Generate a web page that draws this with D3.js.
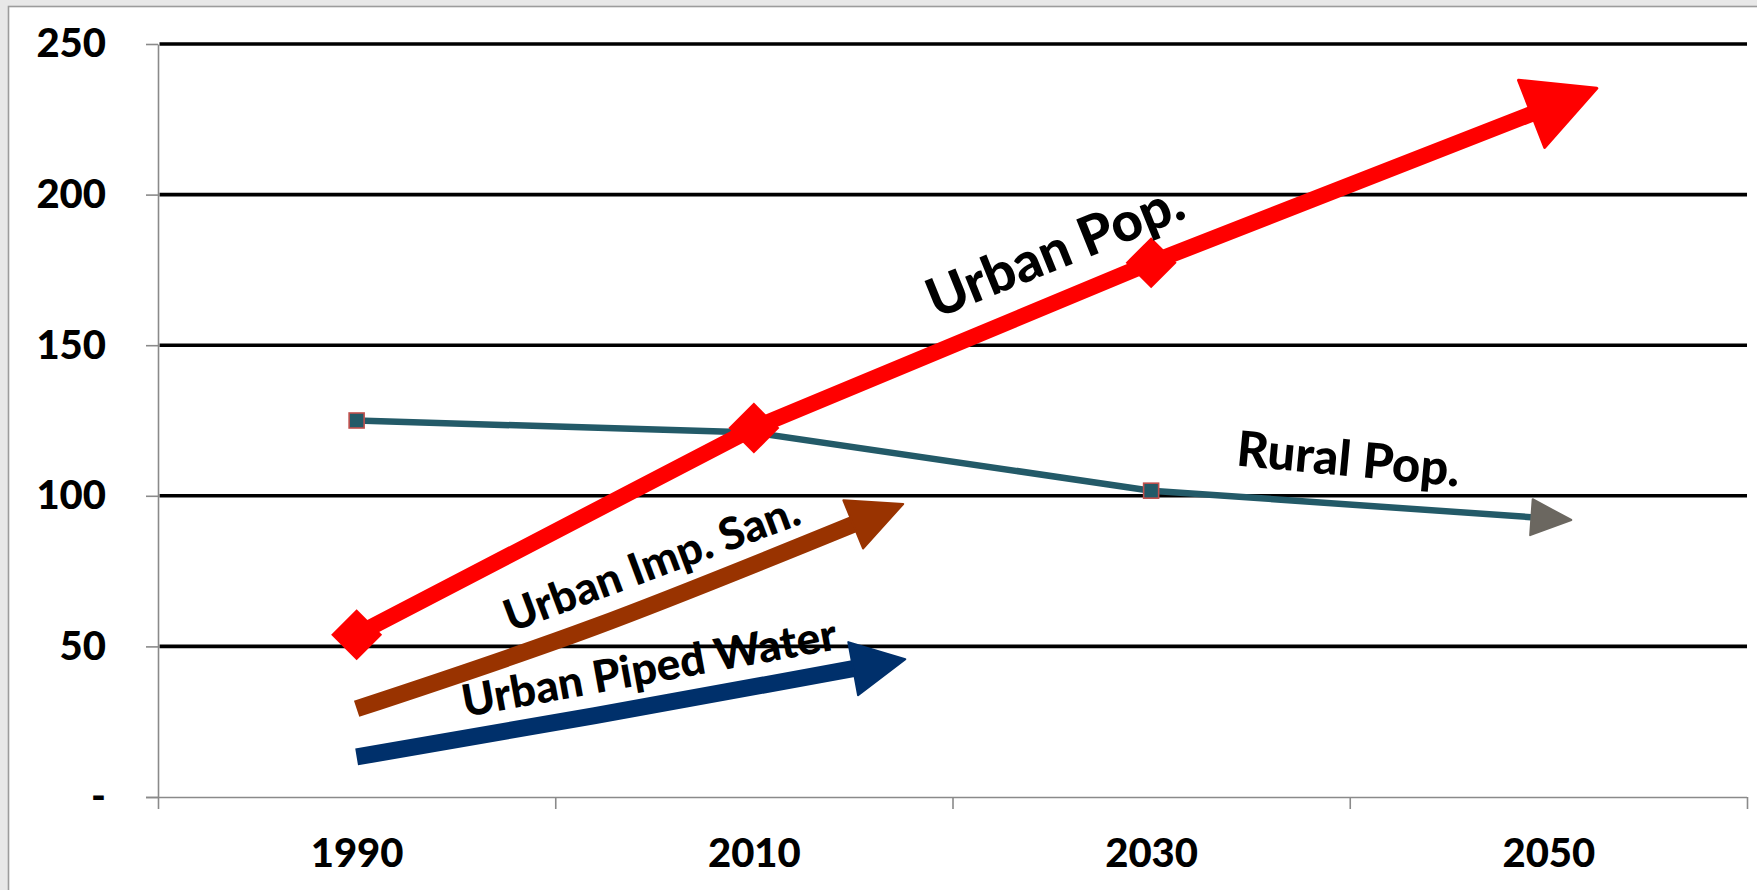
<!DOCTYPE html>
<html>
<head>
<meta charset="utf-8">
<script src="https://cdn.jsdelivr.net/npm/d3@7"></script>
<style>
  html, body { margin: 0; padding: 0; background: #e8e8e8; overflow: hidden; }
  svg { display: block; }
  text { font-family: Lato, "Open Sans", "DejaVu Sans", sans-serif; font-weight: 900; fill: #000; }
</style>
</head>
<body>
<svg id="chart" width="1757" height="890"></svg>
<script>
// ---- Data ----
const categories = ["1990", "2010", "2030", "2050"];
const years = [1990, 2010, 2030, 2050];
const urbanPop = [53.9, 122.5, 177.4, 229];
const ruralPop = [125, 121, 101.7, 92.5];
const sanYears = [1990, 2002, 2015];
const urbanImpSan = [29.3, 56.5, 90.5];
const waterYears = [1990, 2002, 2015];
const urbanPipedWater = [13.3, 27, 42.6];
const yTicks = [0, 50, 100, 150, 200, 250];
const yTickLabels = ["-", "50", "100", "150", "200", "250"];
const gridValues = [50, 100, 150, 200, 250];
const xBoundaries = [1980, 2000, 2020, 2040, 2060];
const seriesLabels = ["Urban Pop.", "Rural Pop.", "Urban Imp. San.", "Urban Piped Water"];

// ---- Layout ----
const W = 1757, H = 890;
const svg = d3.select("#chart");
const x = d3.scaleLinear().domain([1980, 2060]).range([158, 1747]);
const y = d3.scaleLinear().domain([0, 250]).range([797, 44]);

// chart area frame
svg.append("rect").attr("x", 8.5).attr("y", 6.5).attr("width", W + 10).attr("height", H + 10)
  .attr("fill", "#ffffff").attr("stroke", "#9c9c9c").attr("stroke-width", 1.6);

// gridlines
svg.append("g").selectAll("line").data(gridValues).join("line")
  .attr("x1", x(1980) + 1.5).attr("x2", x(2060))
  .attr("y1", d => y(d)).attr("y2", d => y(d))
  .attr("stroke", "#000").attr("stroke-width", 3.6);

// y axis
const yAxis = d3.axisLeft(y).tickValues(yTicks)
  .tickFormat((d, i) => yTickLabels[i]).tickSizeInner(12).tickSizeOuter(0).tickPadding(40);
const gy = svg.append("g").attr("transform", `translate(${x(1980)},0)`).call(yAxis);
gy.selectAll("path, line").attr("stroke", "#8a8a8a").attr("stroke-width", 1.6);
gy.selectAll("text").attr("font-size", 40).attr("font-family", null).attr("font-weight", null);

// x axis (category boundaries)
const xAxis = d3.axisBottom(x).tickValues(xBoundaries).tickFormat("").tickSizeInner(12).tickSizeOuter(0);
const gx = svg.append("g").attr("transform", `translate(0,${y(0)})`).call(xAxis);
gx.selectAll("path, line").attr("stroke", "#8a8a8a").attr("stroke-width", 1.6);
gx.select("path").attr("d", `M${x(1980) - 12},0.5H${x(2060)}`);

// x category labels
const xLab = d3.axisBottom(x).tickValues(years).tickFormat((d, i) => categories[i]).tickSize(0).tickPadding(42);
const gxl = svg.append("g").attr("transform", `translate(0,${y(0)})`).call(xLab);
gxl.select("path").remove();
gxl.selectAll("text").attr("font-size", 40).attr("font-family", null).attr("font-weight", null);

// ---- helpers ----
function arrowHead(pathNode, b, t, hw) {
  const L = pathNode.getTotalLength();
  const p = pathNode.getPointAtLength(L);
  const q = pathNode.getPointAtLength(Math.max(0, L - 3));
  let dx = p.x - q.x, dy = p.y - q.y;
  const n = Math.hypot(dx, dy); dx /= n; dy /= n;
  const nx = -dy, ny = dx;
  const bx = p.x + dx * b, by = p.y + dy * b;
  const tx = p.x + dx * t, ty = p.y + dy * t;
  return `M${bx + nx * hw},${by + ny * hw}L${tx},${ty}L${bx - nx * hw},${by - ny * hw}Z`;
}

// ---- Rural Pop. ----
const ruralData = years.map((yr, i) => [yr, ruralPop[i]]);
const linear = d3.line().x(d => x(d[0])).y(d => y(d[1]));
const ruralPath = svg.append("path").attr("d", linear(ruralData))
  .attr("fill", "none").attr("stroke", "#235a68").attr("stroke-width", 6.5);
svg.append("g").selectAll("rect").data(ruralData.slice(0, 3)).join("rect")
  .attr("x", d => x(d[0]) - 7.5).attr("y", d => y(d[1]) - 7.5).attr("width", 15).attr("height", 15)
  .attr("fill", "#235a68").attr("stroke", "#c0504d").attr("stroke-width", 1.6);
svg.append("path").attr("d", arrowHead(ruralPath.node(), -17, 23, 18))
  .attr("fill", "#6b6760").attr("stroke", "#6b6760").attr("stroke-width", 2).attr("stroke-linejoin", "round");

// ---- Urban Pop. ----
const urbanData = years.map((yr, i) => [yr, urbanPop[i]]);
const urbanPath = svg.append("path").attr("d", linear(urbanData))
  .attr("fill", "none").attr("stroke", "#ff0000").attr("stroke-width", 16).attr("stroke-linejoin", "round");
svg.append("g").selectAll("path").data(urbanData.slice(0, 3)).join("path")
  .attr("d", d3.symbol(d3.symbolSquare, 1300))
  .attr("transform", d => `translate(${x(d[0])},${y(d[1])}) rotate(45)`)
  .attr("fill", "#ff0000");
svg.append("path").attr("d", arrowHead(urbanPath.node(), -18, 52, 36))
  .attr("fill", "#ff0000").attr("stroke", "#ff0000").attr("stroke-width", 3).attr("stroke-linejoin", "round");

// ---- Urban Imp. San. ----
const curve = d3.line().x(d => x(d[0])).y(d => y(d[1])).curve(d3.curveNatural);
const sanData = sanYears.map((yr, i) => [yr, urbanImpSan[i]]);
const sanPath = svg.append("path").attr("d", curve(sanData))
  .attr("fill", "none").attr("stroke", "#993300").attr("stroke-width", 17);
svg.append("path").attr("d", arrowHead(sanPath.node(), 0, 54, 26))
  .attr("fill", "#993300").attr("stroke", "#993300").attr("stroke-width", 2).attr("stroke-linejoin", "round");

// ---- Urban Piped Water ----
const waterData = waterYears.map((yr, i) => [yr, urbanPipedWater[i]]);
const waterPath = svg.append("path").attr("d", curve(waterData))
  .attr("fill", "none").attr("stroke", "#00306b").attr("stroke-width", 17);
svg.append("path").attr("d", arrowHead(waterPath.node(), 0, 53, 27))
  .attr("fill", "#00306b").attr("stroke", "#00306b").attr("stroke-width", 2).attr("stroke-linejoin", "round");

// ---- series labels (rotated text) ----
const labelSpecs = [
  { text: seriesLabels[0], cx: 1062, cy: 268, angle: -22, width: 272, size: 54 },
  { text: seriesLabels[1], cx: 1347, cy: 476, angle: 5.4, width: 224, size: 44 },
  { text: seriesLabels[2], cx: 657, cy: 578, angle: -20.5, width: 312, size: 38 },
  { text: seriesLabels[3], cx: 652, cy: 683, angle: -10.3, width: 380, size: 38 }
];
labelSpecs.forEach(s => {
  const t = svg.append("text").attr("text-anchor", "middle")
    .attr("transform", `translate(${s.cx},${s.cy}) rotate(${s.angle})`)
    .attr("font-size", s.size).text(s.text);
  const w = t.node().getComputedTextLength();
  t.attr("font-size", s.size * s.width / w);
});
</script>
</body>
</html>
